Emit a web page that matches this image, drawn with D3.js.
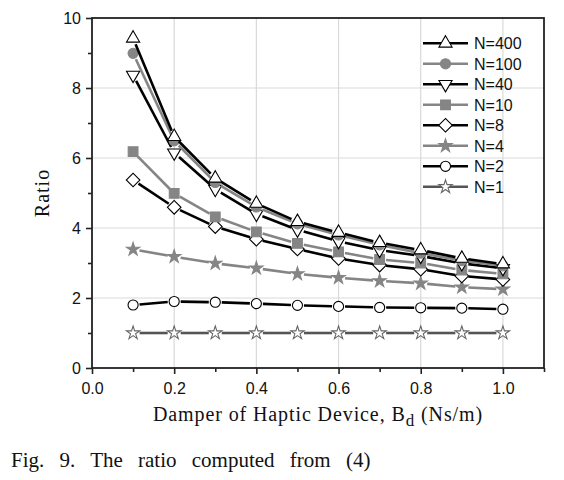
<!DOCTYPE html>
<html><head><meta charset="utf-8">
<script src="https://cdn.jsdelivr.net/npm/d3@7"></script>
<style>body{margin:0;background:#fff}svg{display:block}</style>
</head><body>
<script>
const bd = [0.1,0.2,0.3,0.4,0.5,0.6,0.7,0.8,0.9,1.0];
const labels = ["N=400","N=100","N=40","N=10","N=8","N=4","N=2","N=1"];
const n400 = [9.42,6.61,5.42,4.7,4.18,3.87,3.58,3.37,3.13,2.97];
const n100 = [8.99,6.49,5.3,4.6,4.12,3.8,3.52,3.28,3.07,2.92];
const n40  = [8.37,6.15,5.11,4.4,3.95,3.62,3.37,3.2,2.99,2.85];
const n10  = [6.18,4.99,4.32,3.89,3.56,3.32,3.1,3.0,2.8,2.69];
const n8   = [5.37,4.59,4.04,3.68,3.4,3.13,2.94,2.82,2.63,2.53];
const n4   = [3.39,3.18,2.99,2.85,2.69,2.58,2.49,2.42,2.31,2.25];
const n2   = [1.8,1.9,1.88,1.84,1.79,1.76,1.73,1.72,1.71,1.68];
const n1   = [1.0,1.0,1.0,1.0,1.0,1.0,1.0,1.0,1.0,1.0];
const xTicks = [0.0,0.2,0.4,0.6,0.8,1.0];
const yTicks = [0,2,4,6,8,10];

const series = [
  {name:labels[0], v:n400, line:"#000", sym:"triUp", fill:"#fff", stroke:"#000"},
  {name:labels[1], v:n100, line:"#858585", sym:"circle", fill:"#858585", stroke:"#858585"},
  {name:labels[2], v:n40, line:"#000", sym:"triDown", fill:"#fff", stroke:"#000"},
  {name:labels[3], v:n10, line:"#858585", sym:"square", fill:"#858585", stroke:"#858585"},
  {name:labels[4], v:n8, line:"#000", sym:"diamond", fill:"#fff", stroke:"#000"},
  {name:labels[5], v:n4, line:"#858585", sym:"star", fill:"#858585", stroke:"#858585"},
  {name:labels[6], v:n2, line:"#000", sym:"circle", fill:"#fff", stroke:"#000"},
  {name:labels[7], v:n1, line:"#555", sym:"star", fill:"#fff", stroke:"#666"}
];

const W=564,H=480;
const L=92,R=544,T=18,B=368;
const svg=d3.select("body").append("svg").attr("width",W).attr("height",H);
const x=d3.scaleLinear().domain([0,1.1]).range([L,R]);
const y=d3.scaleLinear().domain([0,10]).range([B,T]);

// grid
const g=svg.append("g");
g.selectAll(".gx").data([0.2,0.4,0.6,0.8,1.0]).enter().append("line")
 .attr("x1",d=>x(d)).attr("x2",d=>x(d)).attr("y1",T).attr("y2",B)
 .attr("stroke","#d9d9d9").attr("stroke-width",1.2);
g.selectAll(".gy").data([2,4,6,8]).enter().append("line")
 .attr("y1",d=>y(d)).attr("y2",d=>y(d)).attr("x1",L).attr("x2",R)
 .attr("stroke","#d9d9d9").attr("stroke-width",1.2);

// axes
const font="Liberation Sans, Arial, sans-serif";
const xa=svg.append("g").attr("transform",`translate(0,${B})`)
 .call(d3.axisBottom(x).tickValues(xTicks).tickFormat(d3.format(".1f")).tickSize(6).tickSizeOuter(0));
const xm=svg.append("g").attr("transform",`translate(0,${B})`)
 .call(d3.axisBottom(x).tickValues([0.1,0.3,0.5,0.7,0.9,1.1]).tickFormat("").tickSize(4).tickSizeOuter(0));
const ya=svg.append("g").attr("transform",`translate(${L},0)`)
 .call(d3.axisLeft(y).tickValues(yTicks).tickFormat(d3.format("d")).tickSize(6).tickSizeOuter(0));
const ym=svg.append("g").attr("transform",`translate(${L},0)`)
 .call(d3.axisLeft(y).tickValues([1,3,5,7,9]).tickFormat("").tickSize(4).tickSizeOuter(0));
[xa,xm,ya,ym].forEach(a=>{a.select(".domain").remove();a.selectAll("line").attr("stroke","#222").attr("stroke-width",1.6);});
xa.selectAll("text").attr("font-family",font).attr("font-size",16).attr("fill","#111").attr("dy","1.05em");
ya.selectAll("text").attr("font-family",font).attr("font-size",16).attr("fill","#111").attr("x",-11).attr("dy","0.35em");

// frame
svg.append("rect").attr("x",L).attr("y",T).attr("width",R-L).attr("height",B-T)
 .attr("fill","none").attr("stroke","#222").attr("stroke-width",1.8);

function symPath(name){
  switch(name){
    case "triUp": return d3.symbol(d3.symbolTriangle,75)();
    case "triDown": return d3.symbol(d3.symbolTriangle,75)();
    case "circle": return d3.symbol(d3.symbolCircle,80)();
    case "square": return d3.symbol(d3.symbolSquare,95)();
    case "diamond": return d3.symbol(d3.symbolSquare,92)();
    case "star": return d3.symbol(d3.symbolStar,55)();
  }
}
function symRot(name){return name==="triDown"?180:(name==="diamond"?45:0);}

const gap=6.5;
const plot=svg.append("g");
series.slice().reverse().forEach(s=>{
  const pts=bd.map((b,i)=>[x(b),y(s.v[i])]);
  const segs=[];
  for(let i=0;i<pts.length-1;i++){
    const [x1,y1]=pts[i],[x2,y2]=pts[i+1];
    const dx=x2-x1,dy=y2-y1,len=Math.hypot(dx,dy);
    if(len>2*gap) segs.push([x1+dx/len*gap,y1+dy/len*gap,x2-dx/len*gap,y2-dy/len*gap]);
  }
  plot.append("g").selectAll("line").data(segs).enter().append("line")
   .attr("x1",d=>d[0]).attr("y1",d=>d[1]).attr("x2",d=>d[2]).attr("y2",d=>d[3])
   .attr("stroke",s.line).attr("stroke-width",2.6);
  plot.append("g").selectAll("path").data(pts).enter().append("path")
   .attr("d",symPath(s.sym))
   .attr("transform",d=>`translate(${d[0]},${d[1]}) rotate(${symRot(s.sym)})`)
   .attr("fill",s.fill).attr("stroke",s.stroke).attr("stroke-width",1.1);
});

// legend
const lg=svg.append("g");
series.forEach((s,i)=>{
  const yy=43.3+i*20.5;
  lg.append("line").attr("x1",423).attr("x2",468).attr("y1",yy).attr("y2",yy)
   .attr("stroke",s.line).attr("stroke-width",2.6);
  lg.append("path").attr("d",symPath(s.sym))
   .attr("transform",`translate(445.5,${yy}) rotate(${symRot(s.sym)})`)
   .attr("fill",s.fill).attr("stroke",s.stroke).attr("stroke-width",1.1);
  lg.append("text").attr("x",474).attr("y",yy).attr("dy","0.36em")
   .attr("font-family",font).attr("font-size",16).attr("fill","#111").text(s.name);
});

// titles
const serif="Liberation Serif, Times New Roman, serif";
svg.append("text").attr("transform",`translate(49,${(T+B)/2}) rotate(-90)`)
 .attr("text-anchor","middle").attr("font-family",serif).attr("font-size",20)
 .attr("letter-spacing","1px").attr("fill","#111").text("Ratio");
const xt=svg.append("text").attr("x",318).attr("y",421).attr("text-anchor","middle")
 .attr("font-family",serif).attr("font-size",20).attr("letter-spacing","0.9px").attr("fill","#111");
xt.append("tspan").text("Damper of Haptic Device, B");
xt.append("tspan").attr("dy",5).attr("font-size",17).text("d");
xt.append("tspan").attr("dy",-5).text(" (Ns/m)");

svg.append("text").attr("x",11).attr("y",467).attr("font-family",serif).attr("font-size",21)
 .attr("fill","#111").attr("word-spacing","10px").text("Fig. 9. The ratio computed from (4)");
</script>
</body></html>
